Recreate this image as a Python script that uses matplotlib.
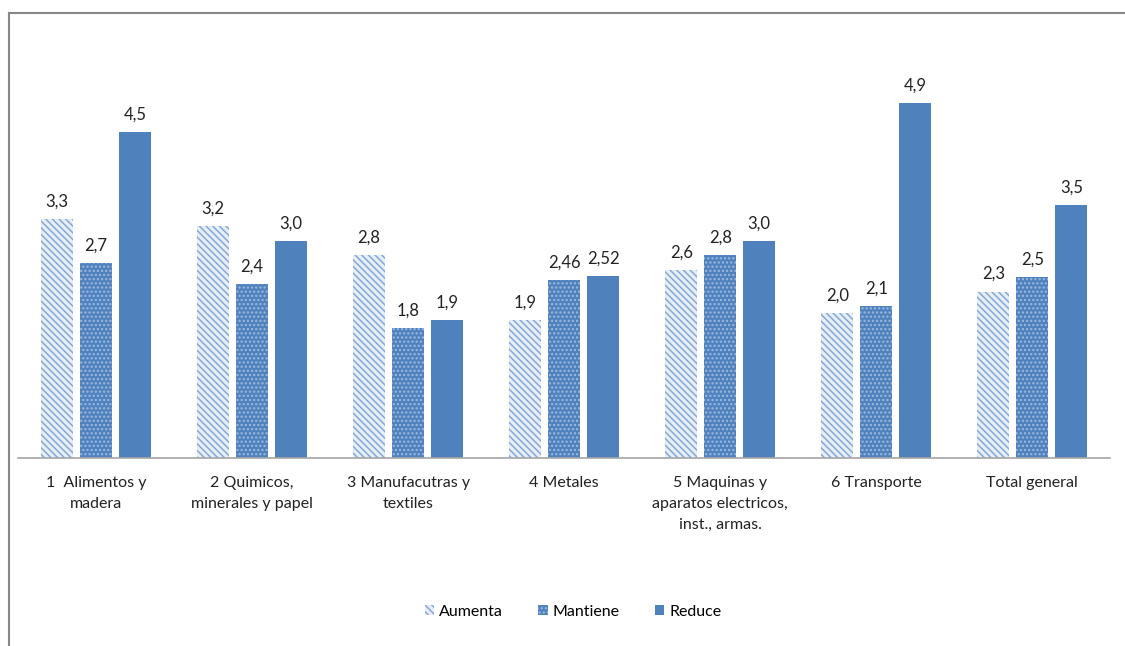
import numpy as np
import matplotlib
matplotlib.use("Agg")
import matplotlib.pyplot as plt
from matplotlib.lines import Line2D

categories = ["1  Alimentos y\nmadera", "2 Quimicos,\nminerales y papel",
              "3 Manufacutras y\ntextiles", "4 Metales",
              "5 Maquinas y\naparatos electricos,\ninst., armas.",
              "6 Transporte", "Total general"]
series = ["Aumenta", "Mantiene", "Reduce"]
aumenta = [3.3, 3.2, 2.8, 1.9, 2.6, 2.0, 2.3]
mantiene = [2.7, 2.4, 1.8, 2.46, 2.8, 2.1, 2.5]
reduce_ = [4.5, 3.0, 1.9, 2.52, 3.0, 4.9, 3.5]

plt.rcParams['font.family'] = ['Lato', 'DejaVu Sans']
plt.rcParams['hatch.linewidth'] = 1.1

fig = plt.figure(figsize=(11.25, 6.46), dpi=100)
ax = fig.add_axes([0.016, 0.291, 0.971, 0.650])

x = np.arange(len(categories))
w = 0.205
styles = [
    dict(facecolor="#E6EEF8", edgecolor="#86A8D6", hatch="\\\\\\\\\\", linewidth=0),
    dict(facecolor="#4F81BD", edgecolor="#9DB9E0", hatch="....", linewidth=0),
    dict(facecolor="#4F81BD", edgecolor="#4F81BD", linewidth=0),
]


def fmt(v):
    s = f"{v:.1f}" if abs(round(v, 1) - v) < 1e-9 else f"{v:.2f}"
    return s.replace(".", ",")


for i, (name, vals) in enumerate(zip(series, [aumenta, mantiene, reduce_])):
    bars = ax.bar(x + (i - 1) * 0.25, vals, w, label=name, **styles[i])
    for b, v in zip(bars, vals):
        ax.text(b.get_x() + b.get_width() / 2, v + 0.13, fmt(v),
                ha="center", va="bottom", fontsize=12, color="#222222")

ax.set_xlim(-0.5, len(categories) - 0.5)
ax.set_ylim(0, 5.8)
ax.set_yticks([])
ax.set_xticks(x)
ax.set_xticklabels(categories, fontsize=11.5, color="#222222", linespacing=1.65)
ax.tick_params(axis="x", length=0, pad=13)
for s in ["top", "right", "left"]:
    ax.spines[s].set_visible(False)
ax.spines["bottom"].set_color("#A6A6A6")
ax.spines["bottom"].set_linewidth(1.2)

ax.legend(loc="upper center", bbox_to_anchor=(0.508, -0.315), ncol=3, frameon=False,
          fontsize=11.5, handlelength=0.6, handleheight=0.6, handletextpad=0.3,
          columnspacing=2.2)

# outer chart frame (partly cropped in the original)
fig.add_artist(Line2D([9 / 1125, 1], [1 - 13 / 646, 1 - 13 / 646],
                      transform=fig.transFigure, color="#888888", lw=1.5))
fig.add_artist(Line2D([9 / 1125, 9 / 1125], [0, 1 - 13 / 646],
                      transform=fig.transFigure, color="#888888", lw=1.5))

fig.savefig("out.png", dpi=100)
